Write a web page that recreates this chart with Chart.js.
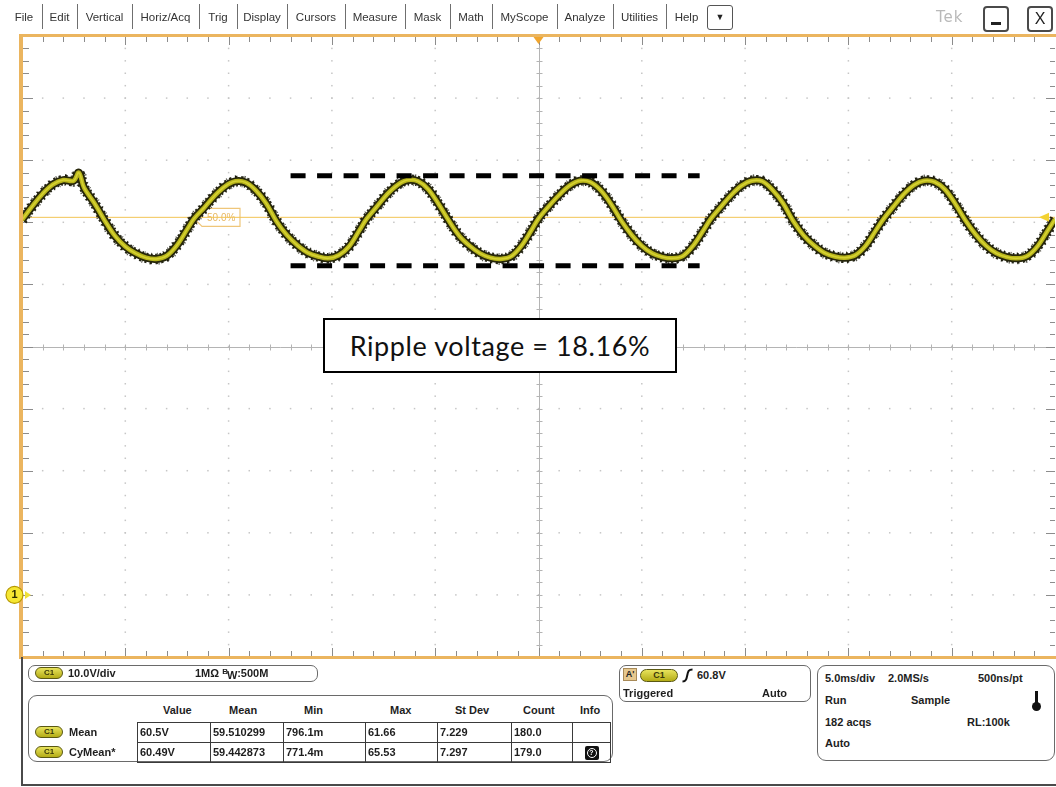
<!DOCTYPE html>
<html>
<head>
<meta charset="utf-8">
<title>Channel 1 ripple</title>
<script src="https://cdn.jsdelivr.net/npm/chart.js@4.4.1/dist/chart.umd.min.js"></script>
<style>
  html, body { margin: 0; padding: 0; background: #fff; }
  body { width: 1056px; height: 787px; position: relative; overflow: hidden;
         font-family: "Liberation Sans", Arial, sans-serif; color: #1e1e1e; }
  #scope { position: absolute; left: 0; top: 0; width: 1056px; height: 787px; }
  .abs { position: absolute; white-space: nowrap; }
  .menu { position: absolute; top: 10px; height: 14px; line-height: 14px; font-size: 11.5px;
          color: #333; text-align: center; white-space: nowrap; }
  .sep { position: absolute; top: 4px; width: 1px; height: 25px; background: #6f6f6f; }
  .box { position: absolute; border: 1.5px solid #6a6a6a; border-radius: 7px; box-sizing: border-box; background: #fff; }
  .b { position: absolute; white-space: nowrap; font-weight: bold; font-size: 11px; line-height: 13px; color: #1e1e1e; }
  .pill { position: absolute; width: 28px; height: 12px; border-radius: 7px; box-sizing: border-box;
          background: linear-gradient(#e8e35c, #b4ac16); border: 1px solid #5a5812;
          font: bold 8px "Liberation Sans", Arial, sans-serif; line-height: 10px; text-align: center; color: #3a3808; }
  table.meas { position: absolute; left: 137px; top: 722px; border-collapse: collapse; table-layout: fixed; }
  table.meas td { border: 1.3px solid #3a3a3a; height: 18px; padding: 0 0 0 2px; box-sizing: border-box;
                  font-weight: bold; font-size: 11px; line-height: 13px; white-space: nowrap; overflow: hidden; }
  #ripple { position: absolute; left: 323px; top: 318px; width: 354px; height: 55px; box-sizing: border-box;
            border: 2px solid #000; background: #fff; font-family: Lato, "Open Sans", sans-serif;
            font-size: 27px; letter-spacing: 0.6px; line-height: 51px; text-align: center; color: #111; }
</style>
</head>
<body>
<canvas id="scope" width="1056" height="787"></canvas>

<div id="menubar"></div>
<div class="abs" style="left:707px;top:5px;width:26px;height:25px;border:1.5px solid #555;border-radius:3px;box-sizing:border-box;font-size:9px;line-height:22px;text-align:center;color:#222;">&#9660;</div>
<div class="abs" style="left:936px;top:8px;font-family:'DejaVu Sans',sans-serif;font-size:15px;letter-spacing:1px;color:#b9b9b9;">Tek</div>
<div class="abs" style="left:983px;top:6px;width:26px;height:26px;border:2px solid #4a4a4a;border-radius:4px;box-sizing:border-box;">
  <div class="abs" style="left:6px;top:14px;width:10px;height:3px;background:#222;"></div>
</div>
<div class="abs" style="left:1027px;top:6px;width:26px;height:26px;border:2px solid #4a4a4a;border-radius:4px;box-sizing:border-box;font-size:16px;line-height:22px;text-align:center;color:#222;">X</div>

<div id="ripple">Ripple voltage = 18.16%</div>

<!-- lower status panel -->
<div class="abs" style="left:21px;top:657px;width:2px;height:129px;background:#4a4a4a;"></div>
<div class="abs" style="left:21px;top:784px;width:1035px;height:2px;background:#4a4a4a;"></div>

<div class="box" style="left:28px;top:665px;width:290px;height:17px;"></div>
<div class="pill" style="left:35px;top:667px;">C1</div>
<div class="b" style="left:68px;top:667px;">10.0V/div</div>
<div class="b" style="left:195px;top:667px;">1MΩ <span style="font-size:8px;position:relative;top:-3px;">B</span><span style="position:relative;top:2px;margin-left:-1px;">W</span>:500M</div>

<div class="box" style="left:28px;top:695px;width:585px;height:67px;border-radius:9px;"></div>
<div class="b" style="left:163px;top:704px;">Value</div>
<div class="b" style="left:229px;top:704px;">Mean</div>
<div class="b" style="left:304px;top:704px;">Min</div>
<div class="b" style="left:390px;top:704px;">Max</div>
<div class="b" style="left:455px;top:704px;">St Dev</div>
<div class="b" style="left:523px;top:704px;">Count</div>
<div class="b" style="left:580px;top:704px;">Info</div>
<div class="pill" style="left:35px;top:726px;">C1</div>
<div class="b" style="left:69px;top:726px;">Mean</div>
<div class="pill" style="left:35px;top:746px;">C1</div>
<div class="b" style="left:69px;top:746px;">CyMean*</div>
<table class="meas">
  <colgroup><col style="width:73px"><col style="width:73px"><col style="width:82px"><col style="width:72px"><col style="width:74px"><col style="width:61px"><col style="width:38px"></colgroup>
  <tr style="height:20px"><td>60.5V</td><td>59.510299</td><td>796.1m</td><td>61.66</td><td>7.229</td><td>180.0</td><td></td></tr>
  <tr style="height:20px"><td>60.49V</td><td>59.442873</td><td>771.4m</td><td>65.53</td><td>7.297</td><td>179.0</td>
    <td style="padding:0;"><div style="margin:0 auto;width:14px;height:14px;background:#111;border-radius:2px;position:relative;">
      <div style="position:absolute;left:2px;top:2px;width:10px;height:10px;box-sizing:border-box;border:1.5px solid #fff;border-radius:50%;font:bold 7px 'Liberation Sans';line-height:7px;text-align:center;color:#fff;">?</div>
    </div></td></tr>
</table>

<div class="box" style="left:619px;top:665px;width:192px;height:37px;"></div>
<div class="abs" style="left:623px;top:668px;width:14px;height:13px;background:#e6c88e;border:1px solid #a88a58;box-sizing:border-box;font:bold 9px 'Liberation Sans';line-height:11px;text-align:center;color:#222;">A'</div>
<div class="pill" style="left:640px;top:669px;width:38px;height:13px;line-height:11px;font-size:9px;">C1</div>
<svg class="abs" style="left:681px;top:668px;" width="13" height="15"><path d="M1.5 13.5 C5 13.5 5.5 11 6.2 7.5 C7 3 7.5 1.5 11.5 1.5" fill="none" stroke="#111" stroke-width="2"/></svg>
<div class="b" style="left:697px;top:669px;">60.8V</div>
<div class="b" style="left:623px;top:687px;">Triggered</div>
<div class="b" style="left:762px;top:687px;">Auto</div>

<div class="box" style="left:817px;top:665px;width:238px;height:96px;border-radius:9px;"></div>
<div class="b" style="left:825px;top:672px;">5.0ms/div</div>
<div class="b" style="left:888px;top:672px;">2.0MS/s</div>
<div class="b" style="left:978px;top:672px;">500ns/pt</div>
<div class="b" style="left:825px;top:694px;">Run</div>
<div class="b" style="left:911px;top:694px;">Sample</div>
<div class="abs" style="left:1035px;top:691px;width:3px;height:13px;background:#111;"></div>
<div class="abs" style="left:1032px;top:702px;width:9px;height:9px;border-radius:50%;background:#111;"></div>
<div class="b" style="left:825px;top:716px;">182 acqs</div>
<div class="b" style="left:967px;top:716px;">RL:100k</div>
<div class="b" style="left:825px;top:737px;">Auto</div>

<script>
// Channel 1 acquisition: time in ms (trigger at 0), amplitude in volts
const timeMs = [
  -25.00, -24.50, -24.00, -23.50, -23.00, -22.50, -22.25, -22.00, -21.50, -21.00, -20.50, -20.00, -19.50, -19.00, -18.50, -18.00, -17.50, -17.00,
  -16.67, -16.17, -15.67, -15.17, -14.67, -14.17, -13.67, -13.17, -12.67, -12.17, -11.67, -11.17, -10.67, -10.17, -9.67, -9.17, -8.67,
  -8.33, -7.83, -7.33, -6.83, -6.33, -5.83, -5.33, -4.83, -4.33, -3.83, -3.33, -2.83, -2.33, -1.83, -1.33, -0.83, -0.33,
  0.00, 0.50, 1.00, 1.50, 2.00, 2.50, 3.00, 3.50, 4.00, 4.50, 5.00, 5.50, 6.00, 6.50, 7.00, 7.50, 8.00,
  8.33, 8.83, 9.33, 9.83, 10.33, 10.83, 11.33, 11.83, 12.33, 12.83, 13.33, 13.83, 14.33, 14.83, 15.33, 15.83, 16.33,
  16.67, 17.17, 17.67, 18.17, 18.67, 19.17, 19.67, 20.17, 20.67, 21.17, 21.67, 22.17, 22.67, 23.17, 23.67, 24.17, 24.67, 25.00
];
const ch1Volts = [
  60.4, 62.6, 64.6, 66.1, 66.8, 66.7, 68.0, 65.6, 63.1, 60.3, 57.8, 56.1, 55.0, 54.3, 54.1, 54.6, 56.3, 58.9,
  60.6, 62.4, 64.3, 65.8, 66.6, 66.4, 65.1, 63.0, 60.1, 57.9, 56.3, 55.1, 54.5, 54.2, 54.7, 56.1, 58.7,
  60.5, 62.5, 64.5, 66.0, 66.8, 66.6, 65.3, 62.9, 60.2, 57.8, 56.2, 55.0, 54.3, 54.1, 54.5, 56.2, 58.8,
  60.6, 62.6, 64.4, 65.9, 66.7, 66.5, 65.2, 63.0, 60.3, 58.0, 56.2, 55.0, 54.4, 54.2, 54.6, 56.3, 58.8,
  60.5, 62.5, 64.4, 65.9, 66.7, 66.6, 65.2, 63.1, 60.2, 57.9, 56.3, 55.1, 54.5, 54.3, 54.7, 56.2, 58.7,
  60.4, 62.5, 64.5, 66.0, 66.7, 66.5, 65.3, 63.0, 60.3, 58.0, 56.2, 55.0, 54.4, 54.2, 54.6, 56.2, 58.8, 60.5
];
const triggerLevelV = 60.8;
const rippleHighV = 67.5;
const rippleLowV = 53.0;
const rippleSpanMs = [-12.0, 7.8];
const timeRangeMs = [-25, 25];     // 10 divisions at 5.0 ms/div
const voltRangeV = [-10, 90];      // 10 divisions at 10.0 V/div
const menuItems = ['File', 'Edit', 'Vertical', 'Horiz/Acq', 'Trig', 'Display', 'Cursors', 'Measure', 'Mask', 'Math', 'MyScope', 'Analyze', 'Utilities', 'Help'];

// menu bar
const menuEdges = [6, 42, 77, 132, 199, 237, 287, 345, 405, 450, 492, 557, 613, 666, 707];
const bar = document.getElementById('menubar');
menuItems.forEach((label, i) => {
  const d = document.createElement('div');
  d.className = 'menu';
  d.style.left = menuEdges[i] + 'px';
  d.style.width = (menuEdges[i + 1] - menuEdges[i]) + 'px';
  d.textContent = label;
  bar.appendChild(d);
  if (i > 0) {
    const s = document.createElement('div');
    s.className = 'sep';
    s.style.left = menuEdges[i] + 'px';
    bar.appendChild(s);
  }
});

const trace = timeMs.map((t, i) => ({ x: t, y: ch1Volts[i] }));
const hLine = (v, a, b) => [{ x: a, y: v }, { x: b, y: v }];

// graticule: dotted divisions, centre cross with ticks, edge ticks, trigger tag
const graticule = {
  id: 'graticule',
  beforeDatasetsDraw(chart) {
    const { ctx, chartArea: a, scales: { x, y } } = chart;
    ctx.save();
    ctx.fillStyle = '#fff';
    ctx.fillRect(a.left, a.top, a.right - a.left, a.bottom - a.top);

    ctx.fillStyle = '#c6c6c6';
    for (let t = timeRangeMs[0] + 5; t < timeRangeMs[1]; t += 5) {
      if (t === 0) continue;
      const px = x.getPixelForValue(t);
      for (let v = voltRangeV[0] + 2; v < voltRangeV[1]; v += 2) ctx.fillRect(px - 0.75, y.getPixelForValue(v) - 0.75, 1.5, 1.5);
    }
    for (let v = voltRangeV[0] + 10; v < voltRangeV[1]; v += 10) {
      if (v === 40) continue;
      const py = y.getPixelForValue(v);
      for (let t = timeRangeMs[0] + 1; t < timeRangeMs[1]; t += 1) ctx.fillRect(x.getPixelForValue(t) - 0.75, py - 0.75, 1.5, 1.5);
    }

    const cx = Math.round(x.getPixelForValue(0)) + 0.5;
    const cy = Math.round(y.getPixelForValue(40)) + 0.5;
    ctx.strokeStyle = '#b4b4b4';
    ctx.lineWidth = 1;
    ctx.beginPath();
    ctx.moveTo(a.left, cy); ctx.lineTo(a.right, cy);
    ctx.moveTo(cx, a.top); ctx.lineTo(cx, a.bottom);
    for (let t = timeRangeMs[0] + 1; t < timeRangeMs[1]; t += 1) {
      const px = Math.round(x.getPixelForValue(t)) + 0.5;
      ctx.moveTo(px, cy - 3); ctx.lineTo(px, cy + 3);
    }
    for (let v = voltRangeV[0] + 2; v < voltRangeV[1]; v += 2) {
      const py = Math.round(y.getPixelForValue(v)) + 0.5;
      ctx.moveTo(cx - 3, py); ctx.lineTo(cx + 3, py);
    }
    ctx.stroke();

    ctx.strokeStyle = '#8c8c8c';
    ctx.beginPath();
    for (let t = timeRangeMs[0] + 1; t < timeRangeMs[1]; t += 1) {
      const px = Math.round(x.getPixelForValue(t)) + 0.5;
      const len = (t % 5 === 0) ? 9 : 6;
      ctx.moveTo(px, a.top); ctx.lineTo(px, a.top + len);
      ctx.moveTo(px, a.bottom); ctx.lineTo(px, a.bottom - len);
    }
    for (let v = voltRangeV[0] + 2; v < voltRangeV[1]; v += 2) {
      const py = Math.round(y.getPixelForValue(v)) + 0.5;
      const len = (v % 10 === 0) ? 9 : 5;
      ctx.moveTo(a.left, py); ctx.lineTo(a.left + 2 + len, py);
      ctx.moveTo(a.right, py); ctx.lineTo(a.right - len, py);
    }
    ctx.stroke();

    // trigger level tag
    const ty = y.getPixelForValue(triggerLevelV);
    const tx = a.left + 171;
    ctx.beginPath();
    ctx.moveTo(tx, ty);
    ctx.lineTo(tx + 9, ty - 9);
    ctx.lineTo(tx + 47, ty - 9);
    ctx.lineTo(tx + 47, ty + 9);
    ctx.lineTo(tx + 9, ty + 9);
    ctx.closePath();
    ctx.fillStyle = '#fff';
    ctx.fill();
    ctx.strokeStyle = '#efc67a';
    ctx.lineWidth = 1.2;
    ctx.stroke();
    ctx.fillStyle = '#e8b862';
    ctx.font = '10px "Liberation Sans", Arial, sans-serif';
    ctx.textBaseline = 'middle';
    ctx.fillText('50.0%', tx + 14, ty + 0.5);
    ctx.restore();
  },
  afterDatasetsDraw(chart) {
    const { ctx, chartArea: a, scales: { x, y } } = chart;
    ctx.save();
    // orange frame
    ctx.fillStyle = '#ebb55f';
    ctx.fillRect(19, a.top - 2, 1037, 3);
    ctx.fillRect(19, a.bottom - 1, 1037, 3);
    ctx.fillRect(19, a.top - 2, 4, a.bottom - a.top + 2);

    // trigger position marker
    const cx = x.getPixelForValue(0);
    ctx.fillStyle = '#f0a52e';
    ctx.beginPath();
    ctx.moveTo(cx - 5, a.top + 1); ctx.lineTo(cx + 5, a.top + 1); ctx.lineTo(cx, a.top + 8);
    ctx.closePath(); ctx.fill();

    // trigger level marker on the right edge
    const ty = y.getPixelForValue(triggerLevelV);
    ctx.fillStyle = '#f3d232';
    ctx.beginPath();
    ctx.moveTo(a.right - 16, ty); ctx.lineTo(a.right - 6, ty - 4.5); ctx.lineTo(a.right - 6, ty + 4.5);
    ctx.closePath(); ctx.fill();

    // channel 1 ground reference
    const gy = y.getPixelForValue(0);
    ctx.fillStyle = '#efe13a';
    ctx.beginPath();
    ctx.moveTo(25, gy - 4); ctx.lineTo(25, gy + 4); ctx.lineTo(31, gy);
    ctx.closePath(); ctx.fill();
    ctx.beginPath();
    ctx.arc(14.5, gy, 8.5, 0, Math.PI * 2);
    ctx.fillStyle = '#f5e632';
    ctx.fill();
    ctx.strokeStyle = '#b59800';
    ctx.lineWidth = 1.2;
    ctx.stroke();
    ctx.fillStyle = '#2a2a00';
    ctx.font = 'bold 11px "Liberation Sans", Arial, sans-serif';
    ctx.textAlign = 'center';
    ctx.textBaseline = 'middle';
    ctx.fillText('1', 14.5, gy + 0.5);
    ctx.restore();
  }
};

const traceStyle = { pointRadius: 0, tension: 0.35, fill: false };

new Chart(document.getElementById('scope'), {
  type: 'line',
  data: {
    datasets: [
      { data: hLine(rippleHighV, rippleSpanMs[0], rippleSpanMs[1]), borderColor: '#000', borderWidth: 5,
        borderDash: [15, 11.5], borderCapStyle: 'butt', pointRadius: 0, tension: 0, order: 0 },
      { data: hLine(rippleLowV, rippleSpanMs[0], rippleSpanMs[1]), borderColor: '#000', borderWidth: 5,
        borderDash: [15, 11.5], borderCapStyle: 'butt', pointRadius: 0, tension: 0, order: 0 },
      { data: trace, borderColor: '#d6d232', borderWidth: 1.6, ...traceStyle, order: 1 },
      { data: trace, borderColor: '#b8b51c', borderWidth: 4.5, ...traceStyle, order: 2 },
      { data: trace, borderColor: '#26260a', borderWidth: 8, ...traceStyle, order: 3 },
      { data: trace, borderColor: 'rgba(15,15,2,0.9)', borderWidth: 10.5, borderDash: [2, 3], ...traceStyle, order: 4 },
      { data: trace, borderColor: 'rgba(15,15,2,0.7)', borderWidth: 12, borderDash: [1, 6.5], ...traceStyle, order: 5 },
      { data: hLine(triggerLevelV, timeRangeMs[0], timeRangeMs[1]), borderColor: '#f2c454', borderWidth: 1,
        pointRadius: 0, tension: 0, order: 6 }
    ]
  },
  options: {
    responsive: false,
    animation: false,
    events: [],
    layout: { padding: { left: 22, top: 36, right: 1, bottom: 130 } },
    scales: {
      x: { type: 'linear', min: timeRangeMs[0], max: timeRangeMs[1], display: false },
      y: { type: 'linear', min: voltRangeV[0], max: voltRangeV[1], display: false }
    },
    plugins: { legend: { display: false }, tooltip: { enabled: false } }
  },
  plugins: [graticule]
});
</script>
</body>
</html>
